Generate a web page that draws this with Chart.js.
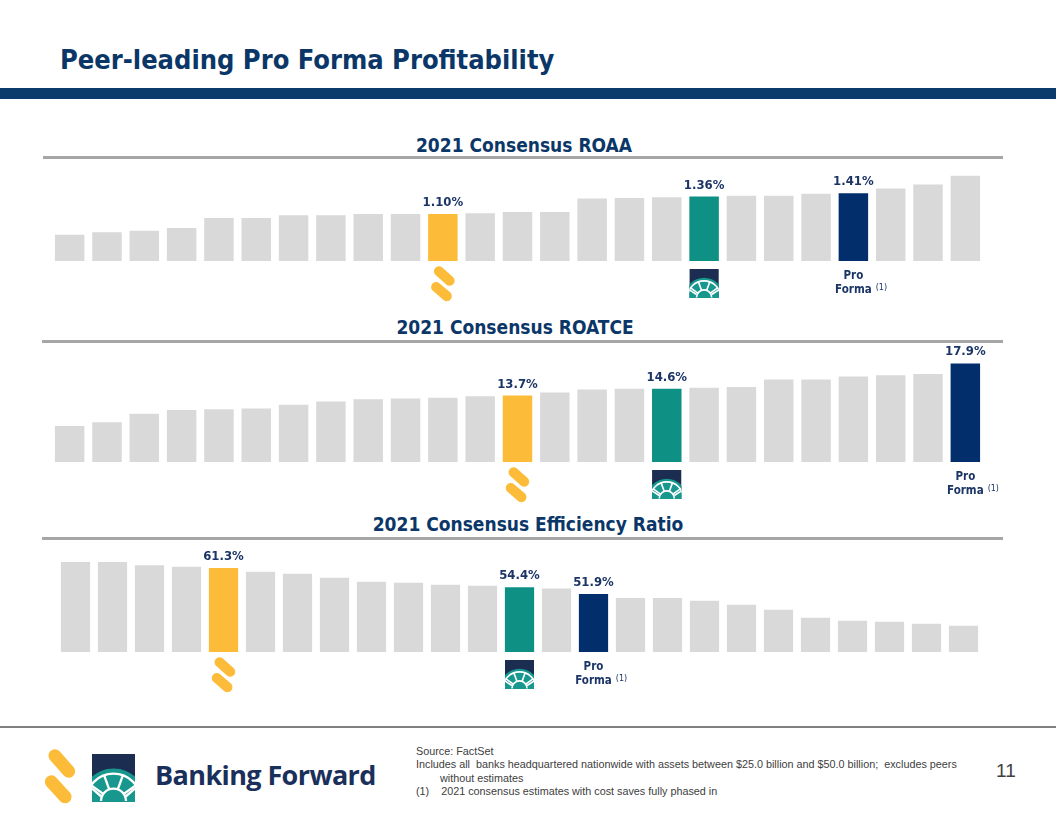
<!DOCTYPE html>
<html>
<head>
<meta charset="utf-8">
<script src="https://cdn.jsdelivr.net/npm/chart.js@4.4.1/dist/chart.umd.min.js"></script>
<style>
  body { margin: 0; background: #fff; }
  #page { position: relative; width: 1056px; height: 816px; overflow: hidden; font-family: "DejaVu Sans Condensed", "DejaVu Sans", sans-serif; }
  .abs { position: absolute; white-space: nowrap; }
  #title { left: 60px; top: 44px; font-size: 27px; font-weight: bold; color: #0b3768; line-height: 32px; }
  #band { left: 0; top: 88px; width: 1056px; height: 11px; background: #0b3a6d; }
  .ctitle { font-size: 19px; font-weight: bold; color: #0b3768; line-height: 22px; transform: translateX(-50%); }
  .rule { left: 43px; width: 960px; height: 3px; background: #a6a6a6; }
  #footrule { left: 0; top: 726px; width: 1056px; height: 2px; background: #808080; }
  canvas { position: absolute; left: 0; }
  #notes { left: 416px; top: 745px; font-family: "Liberation Sans Narrow", sans-serif; font-size: 10.8px; line-height: 13.3px; color: #404040; }
  #brand { left: 155px; top: 757px; font-family: "Open Sans", sans-serif; font-size: 27px; font-weight: bold; color: #1b2f5b; letter-spacing: -0.6px; line-height: 36px; }
  #pagenum { left: 996px; top: 760px; font-family: "Liberation Sans Narrow", sans-serif; font-size: 19px; color: #404040; }
</style>
</head>
<body>
<div id="page">
  <div id="title" class="abs">Peer-leading Pro Forma Profitability</div>
  <div id="band" class="abs"></div>

  <div class="abs ctitle" style="left:524px; top:134px;">2021 Consensus ROAA</div>
  <div class="abs rule" style="top:156px;"></div>
  <canvas id="roaaChart" width="1056" height="145" style="top:160px;"></canvas>

  <div class="abs ctitle" style="left:515px; top:316px;">2021 Consensus ROATCE</div>
  <div class="abs rule" style="top:340px; left:42px; width:961px;"></div>
  <canvas id="roatceChart" width="1056" height="165" style="top:345px;"></canvas>

  <div class="abs ctitle" style="left:528px; top:513px;">2021 Consensus Efficiency Ratio</div>
  <div class="abs rule" style="top:537px; left:42px; width:961px;"></div>
  <canvas id="effChart" width="1056" height="160" style="top:540px;"></canvas>

  <div id="footrule" class="abs"></div>
  <canvas id="footLogo" width="100" height="60" style="left:40px; top:746px;"></canvas>
  <div id="brand" class="abs">Banking Forward</div>
  <div id="notes" class="abs">Source: FactSet<br>Includes all&nbsp; banks headquartered nationwide with assets between $25.0 billion and $50.0 billion;&nbsp; excludes peers<br><span style="padding-left:24px">without estimates</span><br>(1)&nbsp;&nbsp;&nbsp; 2021 consensus estimates with cost saves fully phased in</div>
  <div id="pagenum" class="abs">11</div>
</div>

<script>
// ROAA (%)
const roaaLabels = ["Peer 1", "Peer 2", "Peer 3", "Peer 4", "Peer 5", "Peer 6", "Peer 7", "Peer 8", "Peer 9", "Peer 10",
    "Sterling", "Peer 11", "Peer 12", "Peer 13", "Peer 14", "Peer 15", "Peer 16", "Webster", "Peer 17", "Peer 18",
    "Peer 19", "Pro Forma", "Peer 20", "Peer 21", "Peer 22"];
const roaaValues = [0.79, 0.83, 0.85, 0.89, 1.04, 1.04, 1.08, 1.08, 1.10, 1.10,
    1.10, 1.11, 1.13, 1.13, 1.33, 1.34, 1.35, 1.36, 1.37, 1.37,
    1.40, 1.41, 1.48, 1.54, 1.67];

// ROATCE (%)
const roatceLabels = ["Peer 1", "Peer 2", "Peer 3", "Peer 4", "Peer 5", "Peer 6", "Peer 7", "Peer 8", "Peer 9", "Peer 10",
    "Peer 11", "Peer 12", "Sterling", "Peer 13", "Peer 14", "Peer 15", "Webster", "Peer 16", "Peer 17", "Peer 18",
    "Peer 19", "Peer 20", "Peer 21", "Peer 22", "Pro Forma"];
const roatceValues = [9.7, 10.2, 11.3, 11.8, 11.9, 12.0, 12.5, 12.9, 13.2, 13.3,
    13.4, 13.6, 13.7, 14.1, 14.5, 14.6, 14.6, 14.7, 14.8, 15.8,
    15.8, 16.2, 16.35, 16.5, 17.9];

// Efficiency ratio (%)
const effLabels = ["Peer 1", "Peer 2", "Peer 3", "Peer 4", "Sterling", "Peer 5", "Peer 6", "Peer 7", "Peer 8", "Peer 9",
    "Peer 10", "Peer 11", "Webster", "Peer 12", "Pro Forma", "Peer 13", "Peer 14", "Peer 15", "Peer 16", "Peer 17",
    "Peer 18", "Peer 19", "Peer 20", "Peer 21", "Peer 22"];
const effValues = [63.5, 63.5, 62.3, 61.8, 61.3, 60.0, 59.3, 57.8, 56.4, 56.0,
    55.3, 54.9, 54.4, 53.9, 51.9, 50.5, 50.5, 49.5, 48.1, 46.3,
    43.4, 42.3, 41.9, 41.2, 40.5];

const barColors = { "Sterling": "#fcbc3a", "Webster": "#0e9085", "Pro Forma": "#022f6b" };
const peerColor = "#d9d9d9";
const navy = "#1b3566";

function drawS(ctx, cx, top, w, h) {
    let x0 = cx - w / 2;
    ctx.save();
    ctx.strokeStyle = "#fcbc3a";
    ctx.lineCap = "round";
    ctx.lineWidth = w * 0.36;
    ctx.beginPath();
    ctx.moveTo(x0 + w * 0.36, top + h * 0.15);
    ctx.lineTo(x0 + w * 0.74, top + h * 0.42);
    ctx.moveTo(x0 + w * 0.26, top + h * 0.6);
    ctx.lineTo(x0 + w * 0.64, top + h * 0.86);
    ctx.stroke();
    ctx.restore();
}

function drawWheel(ctx, x, y, w, h) {
    let cx = x + w / 2, cy = y + h * 0.98;
    ctx.save();
    ctx.beginPath();
    ctx.rect(x, y, w, h);
    ctx.clip();
    ctx.fillStyle = "#1b2d50";
    ctx.fillRect(x, y, w, h);
    ctx.fillStyle = "#17978d";
    ctx.beginPath();
    ctx.arc(cx, cy, h * 0.68, 0, Math.PI * 2);
    ctx.fill();
    ctx.strokeStyle = "#ffffff";
    ctx.lineWidth = Math.max(1.3, w * 0.055);
    ctx.beginPath();
    ctx.arc(cx, cy, h * 0.57, Math.PI, Math.PI * 2);
    ctx.stroke();
    ctx.beginPath();
    ctx.arc(cx, cy, h * 0.26, Math.PI, Math.PI * 2);
    ctx.stroke();
    [215, 250, 290, 325].forEach(a => {
        let r = a * Math.PI / 180;
        ctx.beginPath();
        ctx.moveTo(cx + Math.cos(r) * h * 0.26, cy + Math.sin(r) * h * 0.26);
        ctx.lineTo(cx + Math.cos(r) * h * 0.57, cy + Math.sin(r) * h * 0.57);
        ctx.stroke();
    });
    ctx.beginPath();
    ctx.moveTo(cx - h * 0.26, cy - h * 0.1);
    ctx.lineTo(x, y + h * 0.72);
    ctx.moveTo(cx + h * 0.26, cy - h * 0.1);
    ctx.lineTo(x + w, y + h * 0.72);
    ctx.stroke();
    ctx.restore();
}

const markers = {
    id: "markers",
    afterDatasetsDraw(chart, args, opts) {
        const ctx = chart.ctx;
        const meta = chart.getDatasetMeta(0);
        const labels = chart.data.labels;
        const values = chart.data.datasets[0].data;
        const base = chart.chartArea.bottom;
        meta.data.forEach((bar, i) => {
            let name = labels[i];
            if (!barColors[name]) return;
            let x = bar.x, top = bar.y, w = bar.width;
            ctx.save();
            ctx.fillStyle = navy;
            ctx.textAlign = "center";
            ctx.textBaseline = "alphabetic";
            ctx.font = 'bold 13px "DejaVu Sans Condensed", "DejaVu Sans"';
            ctx.fillText(values[i].toFixed(opts.decimals) + "%", x, top - 8);
            if (name === "Sterling") {
                drawS(ctx, x, base + 5, 28, 35);
            } else if (name === "Webster") {
                drawWheel(ctx, x - w / 2, base + 8, w, 29);
            } else {
                ctx.font = 'bold 11.5px "DejaVu Sans Condensed", "DejaVu Sans"';
                ctx.fillText("Pro", x, base + 18);
                ctx.fillText("Forma", x, base + 32);
                let fw = ctx.measureText("Forma").width;
                ctx.font = '8px "DejaVu Sans"';
                ctx.textAlign = "left";
                ctx.fillText("(1)", x + fw / 2 + 4, base + 29);
            }
            ctx.restore();
        });
    }
};

function makeChart(id, labels, values, yMin, yMax, padding, decimals) {
    return new Chart(document.getElementById(id).getContext("2d"), {
        type: "bar",
        data: {
            labels: labels,
            datasets: [{
                data: values,
                backgroundColor: labels.map(l => barColors[l] || peerColor),
                borderWidth: 0,
                barPercentage: 1,
                categoryPercentage: 0.79
            }]
        },
        options: {
            responsive: false,
            animation: false,
            layout: { padding: padding },
            plugins: {
                legend: { display: false },
                tooltip: { enabled: false },
                markers: { decimals: decimals }
            },
            scales: {
                x: { display: false },
                y: { display: false, min: yMin, max: yMax }
            }
        },
        plugins: [markers]
    });
}

makeChart("roaaChart", roaaLabels, roaaValues, 0.4, 1.8, { left: 51, right: 72, top: 7, bottom: 44 }, 2);
makeChart("roatceChart", roatceLabels, roatceValues, 5, 19, { left: 51, right: 72, top: 10, bottom: 48 }, 1);
makeChart("effChart", effLabels, effValues, 31, 70, { left: 57, right: 74, top: 4, bottom: 48 }, 1);

// footer logo
let fctx = document.getElementById("footLogo").getContext("2d");
drawS(fctx, 20, 1, 36, 58);
drawWheel(fctx, 52, 8, 43, 48);
</script>
</body>
</html>
